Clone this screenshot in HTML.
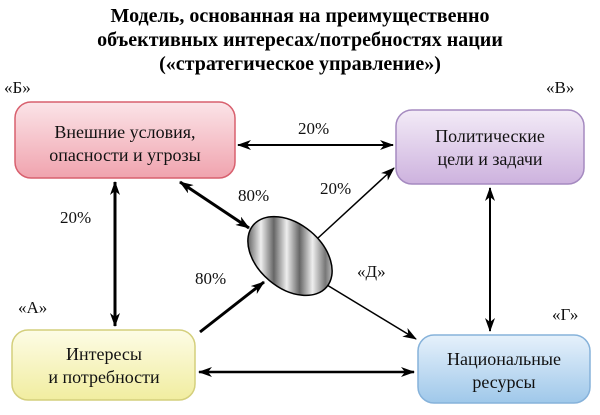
<!DOCTYPE html>
<html><head><meta charset="utf-8"><style>
body{margin:0;width:600px;height:410px;background:#fff;overflow:hidden;font-family:'Liberation Serif','Times New Roman','DejaVu Serif',serif}
svg, svg text{font-family:'Liberation Serif','Times New Roman','DejaVu Serif',serif !important}
</style></head><body>
<svg width="600" height="410" xmlns="http://www.w3.org/2000/svg" style="font-family:'Liberation Serif','Times New Roman','DejaVu Serif',serif">
<defs>
<linearGradient id="r" x1="0" y1="0" x2="0" y2="1"><stop offset="0" stop-color="#fbe4e8"/><stop offset="1" stop-color="#f0a3ae"/></linearGradient>
<linearGradient id="p" x1="0" y1="0" x2="0" y2="1"><stop offset="0" stop-color="#f3ebf7"/><stop offset="1" stop-color="#cdb2de"/></linearGradient>
<linearGradient id="y" x1="0" y1="0" x2="0" y2="1"><stop offset="0" stop-color="#fdfce6"/><stop offset="1" stop-color="#f1eda0"/></linearGradient>
<linearGradient id="b" x1="0" y1="0" x2="0" y2="1"><stop offset="0" stop-color="#e6f1fb"/><stop offset="1" stop-color="#9fc8ea"/></linearGradient>
<linearGradient id="s" gradientUnits="userSpaceOnUse" x1="248" y1="0" x2="334" y2="0" gradientTransform="rotate(-40 290 256)">
<stop offset="0" stop-color="#666"/><stop offset="0.15" stop-color="#eee"/><stop offset="0.3" stop-color="#666"/><stop offset="0.45" stop-color="#eee"/><stop offset="0.6" stop-color="#666"/><stop offset="0.75" stop-color="#eee"/><stop offset="0.9" stop-color="#777"/><stop offset="1" stop-color="#ccc"/></linearGradient>
<marker id="a" viewBox="0 0 14 10" refX="13" refY="5" markerWidth="14" markerHeight="10" markerUnits="userSpaceOnUse" orient="auto-start-reverse"><path d="M0,0 L14,5 L0,10 L4,5 Z" fill="#000"/></marker>
</defs>
<g font-weight="bold" font-size="20" text-anchor="middle" font-family="'Liberation Serif', serif">
<text x="300" y="22">Модель, основанная на преимущественно</text>
<text x="300" y="46">объективных интересах/потребностях нации</text>
<text x="300" y="70">(«стратегическое управление»)</text>
</g>
<rect x="15" y="102" width="220" height="76" rx="16" fill="url(#r)" stroke="#d8606e" stroke-width="1.5"/>
<rect x="396" y="110" width="188" height="74" rx="16" fill="url(#p)" stroke="#a58ac0" stroke-width="1.5"/>
<rect x="12" y="330" width="183" height="70" rx="16" fill="url(#y)" stroke="#d4cf7c" stroke-width="1.5"/>
<rect x="418" y="335" width="172" height="68" rx="16" fill="url(#b)" stroke="#86b2da" stroke-width="1.5"/>
<g font-size="18" text-anchor="middle" fill="#111" font-family="'Liberation Serif', serif">
<text x="125" y="138">Внешние условия,</text><text x="125" y="161">опасности и угрозы</text>
<text x="490" y="142">Политические</text><text x="490" y="165">цели и задачи</text>
<text x="104" y="360">Интересы</text><text x="104" y="383">и потребности</text>
<text x="504" y="365">Национальные</text><text x="504" y="388">ресурсы</text>
</g>
<g stroke="#000" fill="none">
<line x1="238" y1="145" x2="393" y2="145" stroke-width="2" marker-start="url(#a)" marker-end="url(#a)"/>
<line x1="115" y1="182" x2="115" y2="326" stroke-width="3" marker-start="url(#a)" marker-end="url(#a)"/>
<line x1="490" y1="188" x2="490" y2="331" stroke-width="2" marker-start="url(#a)" marker-end="url(#a)"/>
<line x1="199" y1="372" x2="414" y2="372" stroke-width="2.5" marker-start="url(#a)" marker-end="url(#a)"/>
<line x1="180" y1="182" x2="249" y2="228" stroke-width="3" marker-start="url(#a)" marker-end="url(#a)"/>
<line x1="200" y1="332" x2="264" y2="282" stroke-width="3" marker-end="url(#a)"/>
<line x1="318" y1="238" x2="394" y2="168" stroke-width="1.5" marker-end="url(#a)"/>
<line x1="327" y1="285" x2="416" y2="339" stroke-width="1.5" marker-end="url(#a)"/>
</g>
<ellipse cx="290" cy="256" rx="48" ry="32" transform="rotate(40 290 256)" fill="url(#s)" stroke="#000" stroke-width="1.5"/>
<g font-size="17" fill="#111" font-family="'Liberation Serif', serif">
<text x="298" y="134">20%</text>
<text x="60" y="223">20%</text>
<text x="238" y="201">80%</text>
<text x="195" y="284">80%</text>
<text x="320" y="194">20%</text>
<text x="357" y="277">«Д»</text>
<text x="4" y="93">«Б»</text>
<text x="546" y="93">«В»</text>
<text x="18" y="313">«А»</text>
<text x="552" y="320">«Г»</text>
</g>
</svg>
</body></html>
